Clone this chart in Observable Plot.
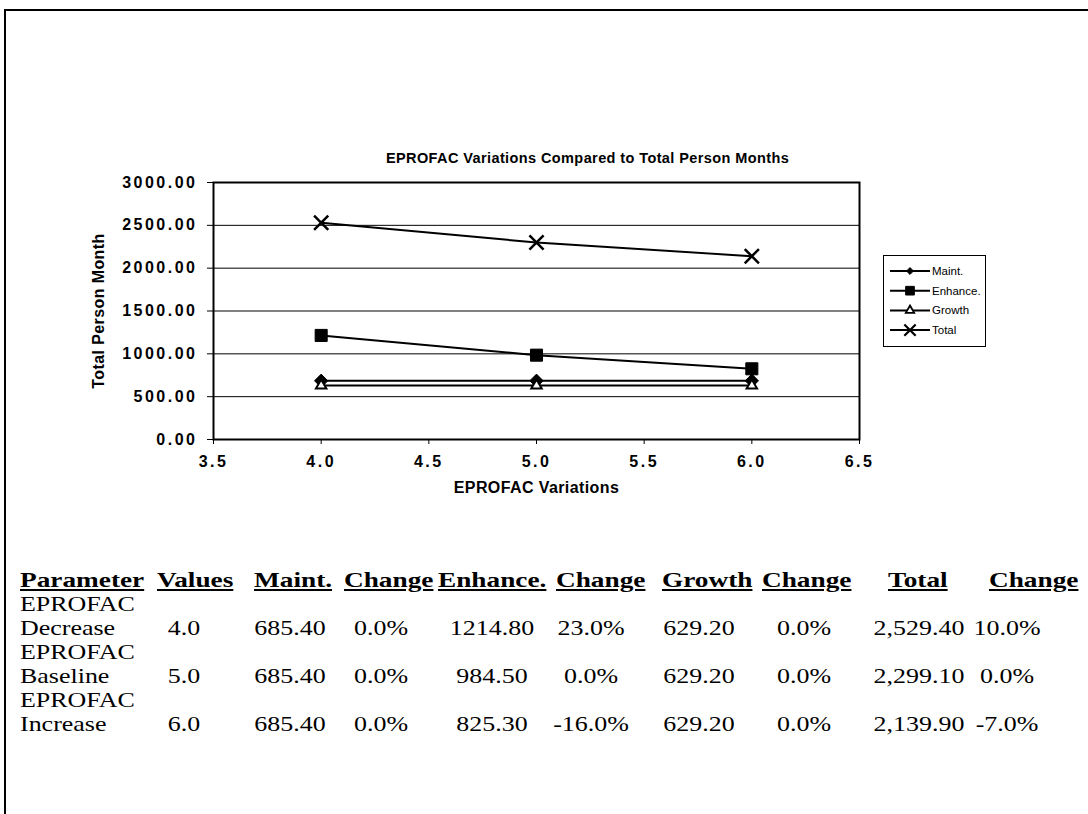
<!DOCTYPE html>
<html>
<head>
<meta charset="utf-8">
<script src="https://cdn.jsdelivr.net/npm/d3@7"></script>
<script src="https://cdn.jsdelivr.net/npm/@observablehq/plot@0.6"></script>
<style>
  html, body { margin: 0; padding: 0; background: #fff; }
  #page { position: relative; width: 1088px; height: 814px; overflow: hidden; background: #fff; }
  #frame { position: absolute; left: 4px; top: 9px; width: 1090px; height: 810px;
           border-top: 2px solid #000; border-left: 2px solid #000; }
  #chart { position: absolute; left: 0; top: 0; }
  #legend { position: absolute; left: 883px; top: 255px; width: 101px; height: 90px;
            border: 1px solid #000; background: #fff; }
  .cell { position: absolute; font-family: "Liberation Serif", "Times New Roman", serif;
          font-size: 22px; color: #000; white-space: nowrap; line-height: 1; }
  .hdr { font-weight: bold; text-decoration: underline; text-underline-offset: 2px; }
</style>
</head>
<body>
<div id="page">
  <div id="frame"></div>
  <div id="chart"></div>
  <div id="legend"></div>
  <div id="table"></div>
</div>
<script>
// ---- data ----
const eprofac = [4.0, 5.0, 6.0];
const seriesNames = ["Maint.", "Enhance.", "Growth", "Total"];
const maint = [685.4, 685.4, 685.4];
const enhance = [1214.8, 984.5, 825.3];
const growth = [629.2, 629.2, 629.2];
const total = [2529.4, 2299.1, 2139.9];
const xTicks = [3.5, 4.0, 4.5, 5.0, 5.5, 6.0, 6.5];
const yTicks = [0, 500, 1000, 1500, 2000, 2500, 3000];
const chartTitle = "EPROFAC Variations Compared to Total Person Months";
const xLabel = "EPROFAC Variations";
const yLabel = "Total Person Month";

const tableHeaders = ["Parameter", "Values", "Maint.", "Change", "Enhance.", "Change", "Growth", "Change", "Total", "Change"];
const paramLine1 = ["EPROFAC", "EPROFAC", "EPROFAC"];
const paramLine2 = ["Decrease", "Baseline", "Increase"];
const maintChange = ["0.0%", "0.0%", "0.0%"];
const enhanceChange = ["23.0%", "0.0%", "-16.0%"];
const growthChange = ["0.0%", "0.0%", "0.0%"];
const totalChange = ["10.0%", "0.0%", "-7.0%"];

// ---- chart ----
const seriesValues = [maint, enhance, growth, total];
const rows = [];
seriesNames.forEach((s, i) => eprofac.forEach((x, j) => rows.push({series: s, x, y: seriesValues[i][j]})));
const only = s => rows.filter(d => d.series === s);

const font = '"Liberation Sans", Arial, sans-serif';
const chart = Plot.plot({
  width: 1088, height: 520,
  marginLeft: 213, marginRight: 229, marginTop: 182, marginBottom: 81,
  style: {fontFamily: font, color: "#000", background: "transparent", overflow: "visible"},
  x: {domain: [3.5, 6.5]},
  y: {domain: [0, 3000]},
  marks: [
    Plot.gridY(yTicks, {stroke: "#000", strokeOpacity: 1, strokeWidth: 1}),
    Plot.axisY(yTicks, {tickSize: 6, tickPadding: 10, tickFormat: d3.format(".2f"), label: null,
      fontSize: 16, fontWeight: "bold", stroke: "#000", strokeWidth: 1}),
    Plot.axisX(xTicks, {tickSize: 5, tickPadding: 11, tickFormat: d3.format(".1f"), label: null,
      fontSize: 16, fontWeight: "bold", stroke: "#000"}),
    Plot.frame({stroke: "#000", strokeWidth: 2}),
    Plot.line(rows, {x: "x", y: "y", z: "series", stroke: "#000", strokeWidth: 2}),
    Plot.dot(only("Maint."), {x: "x", y: "y", symbol: "diamond2", r: 6, fill: "#000", stroke: "#000", strokeWidth: 1}),
    Plot.dot(only("Enhance."), {x: "x", y: "y", symbol: "square", r: 6.8, fill: "#000", stroke: "#000", strokeWidth: 1}),
    Plot.dot(only("Growth"), {x: "x", y: "y", symbol: "triangle2", r: 5, fill: "#fff", stroke: "#000", strokeWidth: 2}),
    Plot.dot(only("Total"), {x: "x", y: "y", symbol: "times", r: 6.5, fill: "none", stroke: "#000", strokeWidth: 2.5}),
    Plot.text([chartTitle], {frameAnchor: "top", dy: -30, dx: 51, fontSize: 14.5, fontWeight: "bold", fill: "#000"}),
    Plot.text([xLabel], {frameAnchor: "bottom", dy: 53, fontSize: 16, fontWeight: "bold", fill: "#000"}),
    Plot.text([yLabel], {frameAnchor: "left", textAnchor: "middle", dx: -115, rotate: -90, fontSize: 16, fontWeight: "bold", fill: "#000"})
  ]
});
d3.select(chart).selectAll("g[aria-label='y-axis tick label'] text, g[aria-label='x-axis tick label'] text")
  .style("letter-spacing", "2.5px");
d3.select(chart).selectAll("g[aria-label='text'] text").style("letter-spacing", "0.4px");
document.getElementById("chart").appendChild(chart);

// ---- legend ----
const legendSymbols = [
  {type: d3.symbolDiamond2, size: 30, fill: "#000", sw: 1},
  {type: d3.symbolSquare, size: 75, fill: "#000", sw: 1},
  {type: d3.symbolTriangle2, size: 50, fill: "#fff", sw: 1.8},
  {type: d3.symbolTimes, size: 85, fill: "none", sw: 2.2}
];
const lg = d3.select("#legend").append("svg").attr("width", 101).attr("height", 90)
  .style("position", "absolute").style("left", 0).style("top", 0);
seriesNames.forEach((name, i) => {
  const cy = 15 + i * 19.7;
  const g = lg.append("g");
  g.append("line").attr("x1", 6).attr("x2", 46).attr("y1", cy).attr("y2", cy)
    .attr("stroke", "#000").attr("stroke-width", 2);
  const sy = legendSymbols[i];
  g.append("path").attr("d", d3.symbol(sy.type, sy.size)()).attr("transform", `translate(26,${cy})`)
    .attr("fill", sy.fill).attr("stroke", "#000").attr("stroke-width", sy.sw);
  g.append("text").attr("x", 48).attr("y", cy).attr("dy", "0.35em")
    .attr("font-family", font).attr("font-size", 11.5).text(name);
});

// ---- table ----
const headerLeft = [20, 157, 254, 344, 438, 556, 662, 762, 888, 989];
const headerY = 580;
const line1Y = [604, 652, 700];
const line2Y = [628, 676, 724];
const colCenters = [184, 290, 381, 492, 591, 699, 804, 919, 1007];
const tbl = d3.select("#table");
function cell(text, x, y, cls, anchor, sx) {
  tbl.append("div").attr("class", "cell " + (cls || "")).text(text)
    .style("left", x + "px").style("top", y + "px")
    .style("transform-origin", anchor === "left" ? "0 50%" : "50% 50%")
    .style("transform", (anchor === "left" ? "translate(0,-50%)" : "translate(-50%,-50%)") + ` scaleX(${sx})`);
}
tableHeaders.forEach((h, i) => cell(h, headerLeft[i], headerY, "hdr", "left", 1.24));
const f1 = d3.format(".1f"), f2 = d3.format(".2f"), fc = d3.format(",.2f");
eprofac.forEach((v, j) => {
  cell(paramLine1[j], 20, line1Y[j], "", "left", 1.18);
  cell(paramLine2[j], 20, line2Y[j], "", "left", 1.18);
  const vals = [f1(v), f2(maint[j]), maintChange[j], f2(enhance[j]), enhanceChange[j],
                f2(growth[j]), growthChange[j], fc(total[j]), totalChange[j]];
  vals.forEach((t, k) => cell(t, colCenters[k], line2Y[j], "", "center", 1.18));
});
</script>
</body>
</html>
